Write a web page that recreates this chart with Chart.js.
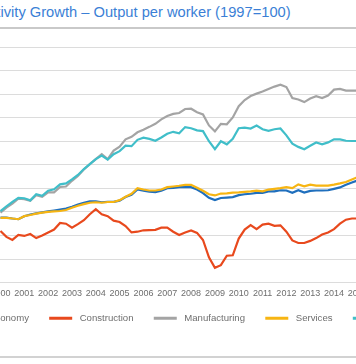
<!DOCTYPE html>
<html><head><meta charset="utf-8">
<script src="https://cdn.jsdelivr.net/npm/chart.js@4.4.1/dist/chart.umd.min.js"></script>
<style>
html,body{margin:0;padding:0;width:356px;height:364px;overflow:hidden;background:#fff;position:relative;}
#title{position:absolute;left:-50.2px;top:3px;white-space:nowrap;font-family:"Liberation Sans",Arial,sans-serif;font-size:14.7px;line-height:18px;color:#3b7fd6;}
#rule{position:absolute;left:0;top:27px;width:356px;height:2px;background:#c9c9c9;}
#rule2{position:absolute;left:0;top:356px;width:356px;height:2px;background:#d2d2d2;}
#wrap{position:absolute;left:-111px;top:30px;width:604px;height:303px;}
</style></head><body>
<div id="title">Productivity Growth – Output per worker (1997=100)</div>
<div id="rule"></div>
<div id="wrap"><canvas id="c" width="604" height="303"></canvas></div>
<div id="rule2"></div>
<script>
// Quarterly index values, 1997 = 100, from 2000 Q1 to 2015 Q2
const startYear = 2000;
const seriesNames = ['Whole Economy', 'Construction', 'Manufacturing', 'Services', 'Production'];

const wholeEconomy = [107.6,107.6,107.2,106.9,108.2,108.9,109.4,109.8,110.2,110.6,
  111.0,111.4,112.2,113.1,113.9,114.5,114.5,114.1,114.3,114.3,
  114.8,116.3,117.3,119.5,119.0,118.6,118.4,119.0,120.1,120.2,
  120.5,120.6,120.5,119.5,118.0,116.0,115.0,115.9,116.1,116.3,
  117.1,117.5,117.7,118.1,118.1,118.7,118.7,119.2,119.1,118.1,
  119.2,118.2,118.9,119.1,119.1,119.2,119.8,120.4,121.5,122.5,
  123.4,123.8];
const construction = [101.9,99.4,98.1,100.2,99.8,100.6,98.9,100.0,101.3,102.5,
  105.3,105.0,103.3,104.8,106.5,109.0,111.2,109.0,108.2,106.3,
  105.7,104.0,101.3,101.6,102.2,102.3,102.4,103.3,103.3,101.6,
  100.2,101.3,102.1,101.1,98.1,90.7,86.3,87.4,91.4,91.6,
  98.7,102.5,104.4,102.7,104.6,105.0,104.1,104.3,101.6,97.9,
  96.8,96.8,97.7,98.9,100.4,101.3,102.7,105.0,106.7,107.2,
  107.2,106.7];
const manufacturing = [109.7,111.8,113.5,115.6,115.4,114.7,117.1,116.4,118.3,118.3,
  120.6,120.8,123.2,125.3,128.0,130.3,132.4,134.5,132.4,136.0,
  137.7,140.8,141.9,143.8,144.9,146.1,147.4,149.3,150.7,151.6,
  152.0,153.7,153.8,152.3,151.4,146.7,144.2,147.4,147.2,150.1,
  154.9,157.5,159.2,160.2,161.1,162.2,163.2,164.0,163.0,158.3,
  157.7,156.6,158.1,159.1,158.3,159.4,161.9,162.2,161.5,161.5,
  161.5,161.3];
const services = [107.5,107.5,107.2,106.9,108.2,108.7,109.3,109.7,110.0,110.2,
  110.4,110.8,111.8,112.6,113.3,113.9,114.1,113.9,114.2,114.2,
  115.0,116.4,117.7,120.1,119.5,119.1,119.1,119.5,120.5,120.8,
  121.1,121.5,121.5,120.3,119.0,117.5,117.0,117.8,117.9,118.2,
  118.3,118.5,118.7,119.0,118.7,119.5,119.8,120.1,120.5,120.1,
  121.7,120.9,121.6,121.2,121.2,121.2,121.6,122.1,122.7,123.8,
  124.8,125.3];
const production = [110.3,112.4,114.3,116.0,115.8,114.9,117.5,116.8,119.0,119.6,
  121.7,122.1,123.8,125.7,128.2,130.3,132.4,133.9,132.2,134.5,
  135.8,138.1,137.9,140.6,141.5,141.0,140.2,141.6,143.2,144.0,
  143.4,146.0,145.5,144.6,144.3,140.0,136.6,140.0,138.7,141.0,
  145.5,145.8,145.4,146.7,145.1,144.4,145.1,145.4,142.5,139.0,
  137.6,136.6,138.1,139.5,138.7,139.5,140.8,140.8,140.2,140.1,
  140.1,140.0];

const yMin = 80, yMax = 180, yStep = 10;
const xMin = 1997, xMax = 2020;

const colors = ['#1f6fbd', '#e8491d', '#a4a4a4', '#f7b512', '#40bec9'];
const drawOrder = [2, 4, 3, 0, 1];
const seriesValues = [wholeEconomy, construction, manufacturing, services, production];

const datasets = seriesValues.map((vals, s) => ({
  label: seriesNames[s],
  data: vals.map((v, i) => ({x: startYear + i / 4, y: v})),
  borderColor: colors[s],
  backgroundColor: colors[s],
  borderWidth: 2.2,
  pointRadius: 0,
  tension: 0,
  fill: false,
  order: drawOrder[s]
}));

const font = 'Liberation Sans';
new Chart(document.getElementById('c'), {
  type: 'line',
  data: {datasets},
  options: {
    responsive: false,
    animation: false,
    layout: {padding: {left: 0, right: 12, top: 17, bottom: 0}},
    plugins: {
      tooltip: {enabled: false},
      legend: {
        position: 'bottom',
        align: 'center',
        labels: {
          boxWidth: 23, boxHeight: 3, padding: 8, color: '#6e6e6e',
          font: {family: font, size: 9.6},
          sort: (a, b) => a.datasetIndex - b.datasetIndex,
          generateLabels: (chart) => Chart.defaults.plugins.legend.labels.generateLabels(chart).map(it => ({
            ...it,
            text: ' ' + it.text + '\u2002\u2002 ',
            fillStyle: chart.data.datasets[it.datasetIndex].borderColor,
            lineWidth: 0
          }))
        }
      }
    },
    scales: {
      x: {
        type: 'linear', min: xMin, max: xMax,
        grid: {display: false, drawTicks: false, tickLength: 0}, border: {display: false},
        ticks: {stepSize: 1, autoSkip: false, maxRotation: 0, minRotation: 0, padding: 6,
          color: '#6e6e6e', font: {family: font, size: 9}, callback: v => String(v)}
      },
      y: {
        min: yMin, max: yMax,
        grid: {color: '#dcdcdc', lineWidth: 1, drawTicks: false}, border: {display: false},
        ticks: {stepSize: yStep, padding: 6, color: '#6e6e6e', font: {family: font, size: 9}},
        afterFit: s => { s.width = 40; }
      }
    }
  }
});
</script>
</body></html>
